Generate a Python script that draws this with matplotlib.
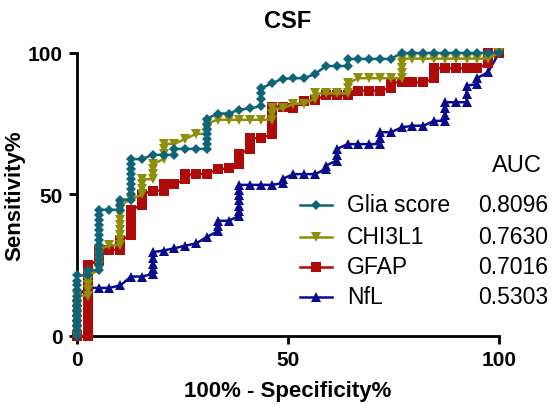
import matplotlib
matplotlib.use("Agg")
import matplotlib.pyplot as plt
from matplotlib.lines import Line2D

plt.rcParams["font.family"] = ["Liberation Sans", "DejaVu Sans"]

# ROC points, x = 100% - Specificity%, y = Sensitivity%
glia_x = [0, 0, 0, 0, 0, 0, 0, 0, 0, 0, 0, 0, 0,
          2.6, 2.6, 5.1, 5.1, 5.1, 5.1, 5.1, 5.1, 5.1, 5.1, 5.1, 5.1, 5.1, 5.1, 5.1,
          7.7, 10.3, 10.3, 10.3, 12.8, 12.8, 12.8, 12.8, 12.8, 12.8, 12.8, 12.8, 12.8,
          15.4, 17.9, 20.5, 23.1, 23.1, 25.6, 28.2, 30.8, 30.8, 30.8, 30.8, 30.8, 30.8, 30.8,
          33.3, 35.9, 38.5, 41.0, 43.6, 43.6, 43.6, 43.6, 46.2, 48.7, 51.3, 53.8,
          56.4, 59.0, 61.5, 64.1, 64.1, 66.7, 69.2, 71.8, 74.4, 76.9, 79.5, 82.1,
          84.6, 87.2, 89.7, 92.3, 94.9, 97.4, 100]
glia_y = [0, 1.8, 3.6, 5.4, 7.1, 8.9, 10.7, 12.5, 14.3, 16.1, 17.9, 19.6, 21.4,
          21.4, 23.2, 23.2, 25.0, 26.8, 28.6, 30.4, 32.1, 33.9, 35.7, 37.5, 39.3, 41.1, 42.9, 44.6,
          44.6, 44.6, 46.4, 48.2, 48.2, 50.0, 51.8, 53.6, 55.4, 57.1, 58.9, 60.7, 62.5,
          62.5, 64.0, 64.0, 64.0, 66.1, 66.1, 66.1, 66.1, 67.9, 69.6, 71.4, 73.2, 75.0, 76.8,
          78.6, 78.6, 80.0, 80.4, 81.2, 83.9, 85.7, 87.5, 89.3, 90.9, 91.1, 91.1,
          92.6, 95.4, 95.4, 95.4, 97.9, 97.9, 97.9, 97.9, 97.9, 100, 100, 100,
          100, 100, 100, 100, 100, 100, 100]

chi_x = [0, 0, 0, 0, 0, 0, 0, 0, 0,
         2.6, 2.6, 2.6, 2.6, 2.6, 5.1, 5.1, 5.1, 5.1, 5.1,
         7.7, 10.3, 10.3, 10.3, 10.3, 10.3, 10.3, 10.3, 10.3, 10.3,
         12.8, 15.4, 15.4, 15.4, 15.4, 17.9, 17.9, 17.9, 17.9, 20.5, 20.5, 20.5, 20.5,
         23.1, 25.6, 28.2, 30.8, 30.8, 30.8, 33.3, 35.9, 38.5, 41.0, 43.6, 46.2, 46.2, 46.2,
         48.7, 51.3, 53.8, 56.4, 56.4, 59.0, 61.5, 64.1, 64.1, 64.1,
         66.7, 69.2, 71.8, 74.4, 76.9, 76.9, 76.9, 76.9, 76.9,
         79.5, 82.1, 84.6, 87.2, 89.7, 92.3, 94.9, 97.4, 100]
chi_y = [0, 1.8, 3.6, 5.4, 7.1, 8.9, 10.7, 12.5, 14.3,
         14.3, 16.1, 17.9, 19.6, 21.4, 23.2, 25.0, 26.8, 28.6, 30.4,
         32.1, 32.1, 33.9, 35.7, 37.5, 39.3, 41.1, 42.9, 44.6, 46.4,
         48.2, 50.0, 51.8, 53.6, 55.4, 55.4, 57.1, 58.9, 60.7, 62.5, 64.3, 66.1, 67.9,
         67.9, 69.6, 71.4, 71.4, 73.2, 75.0, 76.4, 76.4, 76.4, 76.4, 76.4, 76.4, 78.6, 80.4,
         80.4, 82.1, 82.1, 83.9, 85.7, 85.7, 85.7, 85.7, 87.5, 89.3,
         91.1, 91.1, 91.1, 91.1, 91.1, 92.9, 94.6, 96.4, 98.0,
         98.0, 98.0, 98.0, 98.0, 98.0, 98.0, 98.0, 98.0, 100]

gfap_x = [0, 2.6, 2.6, 2.6, 2.6, 2.6, 2.6, 2.6, 2.6, 2.6, 2.6, 2.6, 2.6, 2.6, 2.6, 2.6,
          5.1, 5.1, 5.1, 7.7, 10.3, 10.3, 10.3, 12.8, 12.8, 12.8, 12.8, 12.8, 12.8,
          15.4, 15.4, 15.4, 17.9, 20.5, 20.5, 23.1, 25.6, 25.6, 28.2, 30.8,
          33.3, 35.9, 38.5, 38.5, 38.5, 41.0, 41.0, 41.0, 43.6, 46.2, 46.2, 46.2, 46.2, 46.2, 46.2, 46.2,
          48.7, 51.3, 53.8, 56.4, 59.0, 61.5, 64.1, 66.7, 69.2, 71.8, 74.4, 74.4,
          76.9, 79.5, 82.1, 84.6, 84.6, 84.6, 87.2, 89.7, 92.3, 94.9, 97.4, 97.4, 97.4, 100]
gfap_y = [0, 0, 1.8, 3.6, 5.4, 7.1, 8.9, 10.7, 12.5, 14.3, 16.1, 17.9, 19.6, 21.4, 23.2, 25.0,
          26.8, 28.6, 30.4, 30.4, 30.4, 32.1, 33.9, 35.7, 37.5, 39.3, 41.1, 42.9, 44.6,
          46.4, 48.2, 50.0, 51.4, 51.4, 53.6, 53.6, 55.4, 57.1, 57.1, 57.4,
          58.9, 59.3, 60.7, 62.5, 64.3, 66.1, 67.9, 69.9, 69.9, 71.4, 73.2, 75.0, 76.8, 78.6, 80.4, 81.0,
          81.0, 80.6, 83.0, 83.5, 85.0, 85.0, 85.0, 86.7, 86.7, 86.7, 87.8, 89.6,
          89.6, 89.6, 89.6, 91.1, 92.9, 94.6, 94.6, 94.6, 94.6, 94.6, 96.4, 98.2, 100, 100]

nfl_x = [0, 0, 0, 0, 0, 0, 0, 0, 0,
         2.6, 5.1, 7.7, 10.3, 12.8, 15.4, 17.9, 17.9, 17.9, 17.9, 17.9,
         20.5, 23.1, 25.6, 28.2, 30.8, 33.3, 33.3, 33.3, 35.9,
         38.5, 38.5, 38.5, 38.5, 38.5, 38.5, 38.5,
         41.0, 43.6, 46.2, 48.7, 48.7, 51.3, 53.8, 56.4, 59.0, 59.0,
         61.5, 61.5, 61.5, 64.1, 66.7, 69.2, 71.8, 71.8, 71.8, 74.4,
         76.9, 79.5, 82.1, 84.6, 87.2, 87.2, 87.2, 87.2, 89.7, 92.3, 92.3, 92.3,
         94.9, 94.9, 97.4, 100]
nfl_y = [0, 1.8, 3.6, 5.4, 7.1, 8.9, 10.7, 12.5, 14.3,
         17.0, 17.0, 17.0, 17.9, 21.0, 21.0, 21.9, 23.7, 25.5, 27.5, 29.6,
         30.2, 31.0, 31.9, 32.7, 35.0, 37.0, 39.0, 40.7, 40.7,
         42.5, 44.3, 46.1, 48.0, 49.8, 51.6, 53.4,
         53.4, 53.4, 53.4, 54.0, 55.5, 57.2, 57.2, 57.2, 59.0, 60.2,
         62.0, 64.0, 66.0, 67.8, 67.8, 67.8, 67.8, 69.8, 72.0, 72.0,
         73.7, 74.3, 74.3, 76.0, 76.0, 78.2, 80.4, 82.6, 82.6, 82.6, 85.5, 88.5,
         89.0, 91.2, 93.2, 100]

names = ["Glia score", "CHI3L1", "GFAP", "NfL"]
auc = ["0.8096", "0.7630", "0.7016", "0.5303"]
colors = ["#0f6577", "#8e8e0a", "#ad0a0a", "#0a0a8c"]
markers = ["D", "v", "s", "^"]
msizes = [5, 7.5, 6.5, 7]
series = [(glia_x, glia_y), (chi_x, chi_y), (gfap_x, gfap_y), (nfl_x, nfl_y)]

fig = plt.figure(figsize=(5.52, 4.06), dpi=100)
ax = fig.add_axes([0.1395, 0.170, 0.7645, 0.697])

# draw NfL first, Glia score last so it sits on top
for i in reversed(range(4)):
    xs, ys = series[i]
    ax.plot(xs, ys, color=colors[i], marker=markers[i], markersize=msizes[i],
            linewidth=1.8, markeredgewidth=0, clip_on=False, zorder=3 + (3 - i))

ax.set_xlim(0, 100)
ax.set_ylim(0, 100)
ax.set_xticks([0, 50, 100])
ax.set_yticks([0, 50, 100])
ax.set_xticklabels(["0", "50", "100"], fontsize=15, fontweight="bold")
ax.set_yticklabels(["0", "50", "100"], fontsize=15, fontweight="bold")
ax.tick_params(direction="out", length=6, width=2, pad=4)
for side in ["top", "right"]:
    ax.spines[side].set_visible(False)
for side in ["left", "bottom"]:
    ax.spines[side].set_linewidth(2)

ax.set_xlabel("100% - Specificity%", fontsize=16, fontweight="bold", labelpad=8)
ax.set_ylabel("Sensitivity%", fontsize=16, fontweight="bold", labelpad=2)
ax.set_title("CSF", fontsize=17, fontweight="bold", pad=19)

# legend table with AUC column
fig.text(542 / 552, 1 - 166 / 406, "AUC", fontsize=17, ha="right", va="center")
row_y = [206, 238, 268, 298]
for i in range(4):
    yf = 1 - row_y[i] / 406
    fig.add_artist(Line2D([300 / 552, 316 / 552, 332 / 552], [yf, yf, yf],
                          transform=fig.transFigure, color=colors[i], linewidth=1.8,
                          marker=markers[i], markersize=msizes[i], markevery=[1],
                          markeredgewidth=0))
    fig.text(347 / 552, yf, names[i], fontsize=16.5, ha="left", va="center")
    fig.text(548 / 552, yf, auc[i], fontsize=16.5, ha="right", va="center")

fig.savefig("out.png", dpi=100)
